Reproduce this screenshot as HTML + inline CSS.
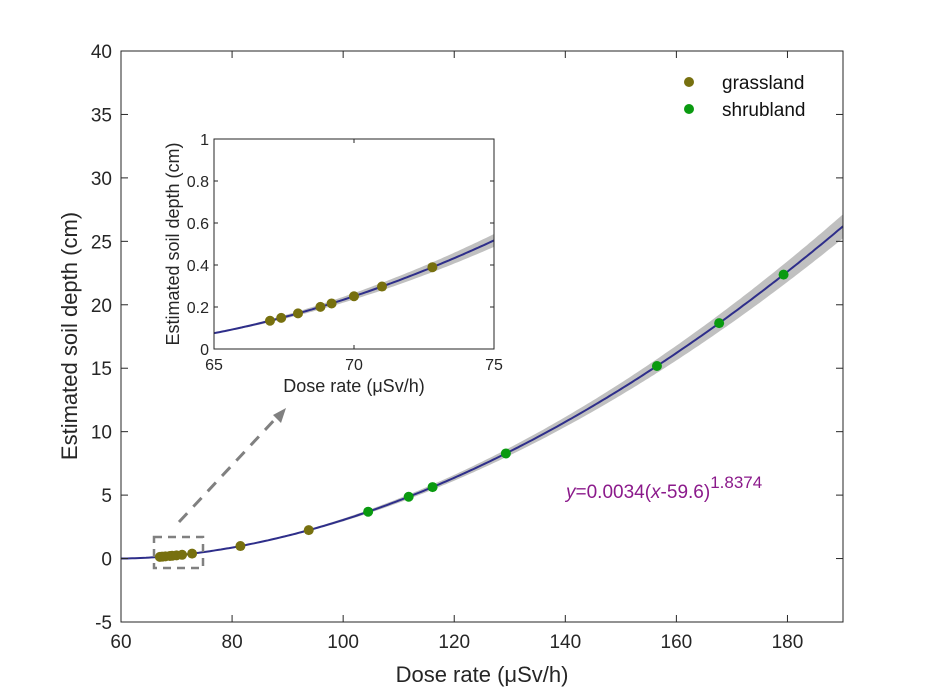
<!DOCTYPE html>
<html><head><meta charset="utf-8"><style>
body{margin:0;background:#fff}
svg{display:block;font-family:"Liberation Sans",sans-serif}
</style></head><body>
<svg id="s" width="932" height="699" viewBox="0 0 932 699" xmlns="http://www.w3.org/2000/svg">
<rect width="932" height="699" fill="#fff"/>
<g id="main"></g>
<g id="inset"></g>
</svg>
<script>
const NS="http://www.w3.org/2000/svg";
function el(p,t,a,txt){const e=document.createElementNS(NS,t);for(const k in a)e.setAttribute(k,a[k]);if(txt!==undefined)e.textContent=txt;p.appendChild(e);return e;}
const f=x=>x<=59.6?0:0.0034*Math.pow(x-59.6,1.8374);
const g=document.getElementById('main');
const L=121,R=843,T=51,B=622;
const X=x=>L+(x-60)*(R-L)/130, Y=y=>B-(y+5)*(B-T)/45;
let up=[],dn=[];
for(let x=60;x<=190.001;x+=0.5){const y=f(x),h=0.036*y;up.push(X(x).toFixed(1)+','+Y(y+h).toFixed(1));dn.unshift(X(x).toFixed(1)+','+Y(y-h).toFixed(1));}
el(g,'polygon',{points:up.concat(dn).join(' '),fill:'#c0c0c0'});
let ln=[];for(let x=60;x<=190.001;x+=0.5)ln.push(X(x).toFixed(1)+','+Y(f(x)).toFixed(1));
el(g,'polyline',{points:ln.join(' '),fill:'none',stroke:'#2e2e8a','stroke-width':2});
el(g,'rect',{x:L,y:T,width:R-L,height:B-T,fill:'none',stroke:'#262626','stroke-width':1});
for(let v=60;v<=180;v+=20){const px=X(v);el(g,'line',{x1:px,y1:B,x2:px,y2:B-7,stroke:'#262626'});el(g,'line',{x1:px,y1:T,x2:px,y2:T+7,stroke:'#262626'});el(g,'text',{x:px,y:B+26,'font-size':19,'text-anchor':'middle',fill:'#262626'},v);}
for(let v=-5;v<=40;v+=5){const py=Y(v);el(g,'line',{x1:L,y1:py,x2:L+7,y2:py,stroke:'#262626'});el(g,'line',{x1:R,y1:py,x2:R-7,y2:py,stroke:'#262626'});el(g,'text',{x:L-9,y:py+7,'font-size':19,'text-anchor':'end',fill:'#262626'},v);}
el(g,'text',{x:482,y:682,'font-size':22,'text-anchor':'middle',fill:'#262626'},'Dose rate (μSv/h)');
el(g,'text',{x:0,y:0,'font-size':22,'text-anchor':'middle',fill:'#262626',transform:'translate(77,336) rotate(-90)'},'Estimated soil depth (cm)');
el(g,'rect',{x:154,y:537,width:49,height:31,fill:'none',stroke:'#808080','stroke-width':2.5,'stroke-dasharray':'8,6'});
el(g,'line',{x1:179,y1:522,x2:278,y2:416,stroke:'#808080','stroke-width':3,'stroke-dasharray':'12,9'});
el(g,'polygon',{points:'286,408 273,415 281,423',fill:'#808080'});
const gr=[67,67.4,68,68.8,69.2,70,71,72.8,81.5,93.8],sh=[104.5,111.8,116.1,129.3,156.5,167.7,179.3];
gr.forEach(x=>el(g,'circle',{cx:X(x),cy:Y(f(x)),r:5,fill:'#77700f'}));
sh.forEach(x=>el(g,'circle',{cx:X(x),cy:Y(f(x)),r:5,fill:'#0a9a10'}));
el(g,'circle',{cx:689,cy:82,r:5,fill:'#77700f'});el(g,'text',{x:722,y:89,'font-size':19,fill:'#111'},'grassland');
el(g,'circle',{cx:689,cy:109,r:5,fill:'#0a9a10'});el(g,'text',{x:722,y:116,'font-size':19,fill:'#111'},'shrubland');
const eq=el(g,'text',{x:566,y:498,'font-size':19,fill:'#8b1a8b'});
eq.innerHTML='<tspan font-style="italic">y</tspan>=0.0034(<tspan font-style="italic">x</tspan>-59.6)<tspan dy="-10" font-size="17">1.8374</tspan>';
const h=document.getElementById('inset');
const l=214,r=494,t=139,b=349;
const XI=x=>l+(x-65)*(r-l)/10, YI=y=>b-y*(b-t);
el(h,'rect',{x:l,y:t,width:r-l,height:b-t,fill:'#fff'});
up=[];dn=[];
for(let x=65;x<=75.001;x+=0.1){const y=f(x),w=0.03*y+(x-65)*0.0015;up.push(XI(x).toFixed(1)+','+YI(y+w).toFixed(1));dn.unshift(XI(x).toFixed(1)+','+YI(y-w).toFixed(1));}
el(h,'polygon',{points:up.concat(dn).join(' '),fill:'#c0c0c0'});
ln=[];for(let x=65;x<=75.001;x+=0.1)ln.push(XI(x).toFixed(1)+','+YI(f(x)).toFixed(1));
el(h,'polyline',{points:ln.join(' '),fill:'none',stroke:'#2e2e8a','stroke-width':2});
el(h,'rect',{x:l,y:t,width:r-l,height:b-t,fill:'none',stroke:'#262626'});
[65,70,75].forEach(v=>{const px=XI(v);el(h,'line',{x1:px,y1:b,x2:px,y2:b-4,stroke:'#262626'});el(h,'line',{x1:px,y1:t,x2:px,y2:t+4,stroke:'#262626'});el(h,'text',{x:px,y:b+21,'font-size':16,'text-anchor':'middle',fill:'#262626'},v);});
[0,0.2,0.4,0.6,0.8,1].forEach(v=>{const py=YI(v);el(h,'line',{x1:l,y1:py,x2:l+4,y2:py,stroke:'#262626'});el(h,'line',{x1:r,y1:py,x2:r-4,y2:py,stroke:'#262626'});el(h,'text',{x:l-5,y:py+6,'font-size':16,'text-anchor':'end',fill:'#262626'},v);});
el(h,'text',{x:354,y:392,'font-size':18,'text-anchor':'middle',fill:'#262626'},'Dose rate (μSv/h)');
el(h,'text',{x:0,y:0,'font-size':18,'text-anchor':'middle',fill:'#262626',transform:'translate(179,244) rotate(-90)'},'Estimated soil depth (cm)');
gr.slice(0,8).forEach(x=>el(h,'circle',{cx:XI(x),cy:YI(f(x)),r:5,fill:'#77700f'}));
</script>
</body></html>
